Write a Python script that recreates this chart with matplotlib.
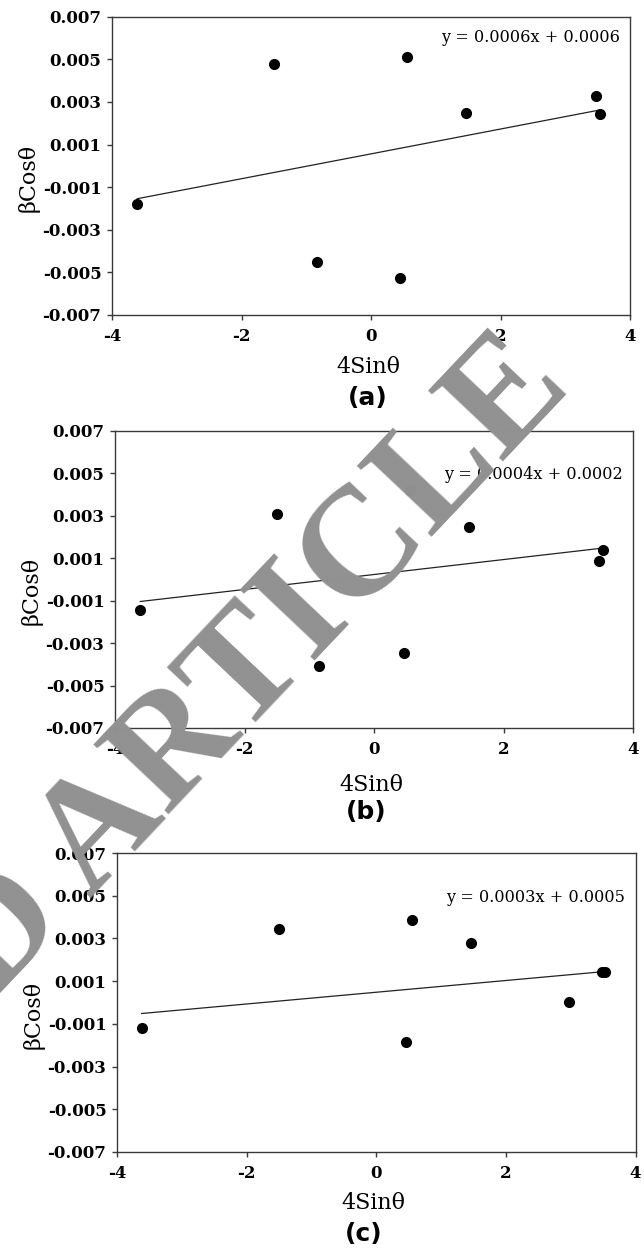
import matplotlib
matplotlib.use("Agg")
import matplotlib.pyplot as plt
import numpy as np

plt.rcParams['axes.unicode_minus'] = False

# ---- data ----
x_a = [-3.61, -1.50, -0.84, 0.455, 0.55, 1.46, 3.48, 3.53]
y_a = [-0.00178, 0.00479, -0.00453, -0.00525, 0.00511, 0.00248, 0.00328, 0.00242]

x_b = [-3.61, -1.50, -0.85, 0.46, 0.55, 1.46, 3.48, 3.53]
y_b = [-0.00143, 0.00310, -0.00407, -0.00349, 0.00421, 0.00245, 0.00087, 0.00136]

x_c = [-3.62, -1.50, 0.46, 0.55, 1.46, 2.98, 3.48, 3.53]
y_c = [-0.00118, 0.00343, -0.00184, 0.00387, 0.00278, 0.00001, 0.00145, 0.00145]

fit_slope = [0.000583, 0.000352, 0.000275]
fit_intercept = [0.000562, 0.000228, 0.00048]
equations = ["y = 0.0006x + 0.0006", "y = 0.0004x + 0.0002", "y = 0.0003x + 0.0005"]
panel_labels = ["(a)", "(b)", "(c)"]

x_ticks = [-4, -2, 0, 2, 4]
y_ticks = [-0.007, -0.005, -0.003, -0.001, 0.001, 0.003, 0.005, 0.007]

# ---- layout ----
W, H = 644, 1249
fig = plt.figure(figsize=(W / 100, H / 100), dpi=100)

def rect(l, r, t, b):
    return [l / W, 1 - b / H, (r - l) / W, (b - t) / H]

rects = [rect(112, 630, 16.7, 315), rect(115, 633, 430.7, 728), rect(117, 635.5, 853, 1152)]
eq_y = [0.929, 0.854, 0.850]
xlabel_y = [-0.174, -0.192, -0.170]
panel_pos = [(368, 398), (366, 812), (364, 1234)]

data = [(x_a, y_a), (x_b, y_b), (x_c, y_c)]
spine_col = '#3a3a3a'

for i, (xs, ys) in enumerate(data):
    ax = fig.add_axes(rects[i])
    ax.plot(xs, ys, 'o', color='black', markersize=7, zorder=3)
    xl = np.array([min(xs), max(xs)])
    ax.plot(xl, fit_slope[i] * xl + fit_intercept[i], color='#222222', lw=0.9, zorder=2)
    ax.set_xlim(-4, 4)
    ax.set_ylim(-0.007, 0.007)
    ax.set_xticks(x_ticks)
    ax.set_xticklabels([str(t) for t in x_ticks])
    ax.set_yticks(y_ticks)
    ax.set_yticklabels(["%.3f" % t for t in y_ticks])
    for s in ax.spines.values():
        s.set_color(spine_col)
        s.set_linewidth(1.0)
    ax.tick_params(direction='out', length=3.6, width=1.0, color=spine_col,
                   top=False, right=False)
    ax.tick_params(axis='y', pad=4)
    ax.tick_params(axis='x', pad=6)
    for lab in ax.get_xticklabels() + ax.get_yticklabels():
        lab.set_fontfamily('DejaVu Serif')
        lab.set_fontweight('bold')
        lab.set_fontsize(12)
    ax.set_xlabel("4Sinθ", fontfamily='DejaVu Serif', fontsize=16)
    ax.xaxis.set_label_coords(0.495, xlabel_y[i])
    ax.xaxis.label.set_va('center')
    ax.set_ylabel("βCosθ", fontfamily='DejaVu Serif', fontsize=16)
    ax.yaxis.set_label_coords(-0.161, 0.46)
    ax.yaxis.label.set_va('center')
    ax.text(0.98, eq_y[i], equations[i], transform=ax.transAxes, ha='right', va='center',
            fontfamily='DejaVu Serif', fontsize=11.6)
    px, py = panel_pos[i]
    fig.text(px / W, 1 - py / H, panel_labels[i], ha='center', va='center',
             fontfamily='DejaVu Sans', fontweight='bold', fontsize=18)

# watermark
fig.text(573 / W, 1 - 388 / H, "RETRACTED ARTICLE", ha='right', va='baseline',
         rotation=46.6, rotation_mode='anchor', fontfamily='Liberation Serif',
         fontweight='bold', fontsize=112, color='#919191', zorder=10)

fig.savefig('out.png', dpi=100)
